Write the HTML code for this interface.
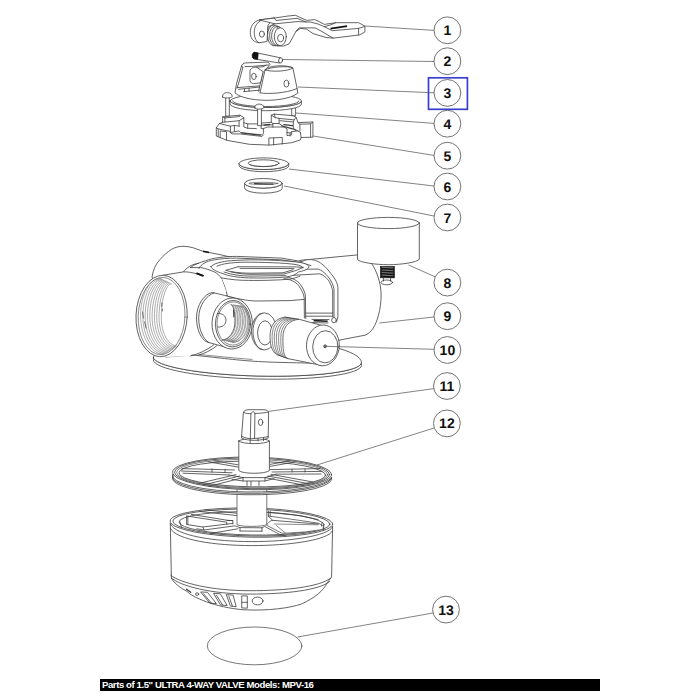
<!DOCTYPE html>
<html>
<head>
<meta charset="utf-8">
<title>Parts of 1.5" ULTRA 4-WAY VALVE Models: MPV-16</title>
<style>
html,body{margin:0;padding:0;background:#fff;}
body{width:700px;height:700px;overflow:hidden;position:relative;font-family:"Liberation Sans",sans-serif;}
svg{position:absolute;left:0;top:0;}
.l{fill:none;stroke:#3c3c3c;stroke-width:0.8;stroke-linecap:round;stroke-linejoin:round;}
.w{fill:#fff;stroke:#3c3c3c;stroke-width:0.8;stroke-linecap:round;stroke-linejoin:round;}
.t{fill:none;stroke:#5a5a5a;stroke-width:0.5;}
.ld{fill:none;stroke:#5a5a5a;stroke-width:0.75;}
.c{fill:#fff;stroke:#5a5a5a;stroke-width:0.85;}
.n{font-family:"Liberation Sans",sans-serif;font-weight:bold;font-size:14px;fill:#111;text-anchor:middle;text-rendering:geometricPrecision;}
#bar{position:absolute;left:100px;top:678.5px;width:500px;height:12px;background:#000;}
#bar span{position:absolute;left:2px;top:0;line-height:12px;font-size:9.6px;font-weight:bold;color:#fff;white-space:nowrap;letter-spacing:-0.43px;}
</style>
</head>
<body>
<svg width="700" height="700" viewBox="0 0 700 700">
<!-- PARTS-START -->
<g id="p1">
<!-- far lug -->
<path class="w" d="M259.4 19.9 C253 21.5 250.3 27 250.3 32.4 C250.3 38 253 41.5 257 42.3 L259 42.7 L267 41.6 L268 25 L274.3 18.1 Z"/>
<path class="l" d="M262.3 19.9 C256.5 22 254.3 27 254.3 32.4 C254.3 38 256.5 41.8 258.9 42.7"/>
<ellipse class="l" cx="261.9" cy="34.1" rx="2.5" ry="3.1"/>
<!-- arm -->
<path class="w" d="M259.4 19.9 L274.3 18.1 L288 16 L295.7 15.3 L300 17.5 L307 20.4 L314.6 19.6 L319 21.5 L324.3 24.4 L335.7 22.7 L358.6 22.7 L364.9 26.1 L364.9 31.9 L359.7 34.9 L333.4 38.1 L326 37.5 L313.1 33.6 L306.3 29 L300.6 28.4 L296 31.3 L289.1 43.9 L283.4 46.1 L273 45.6 L268 40 L268 27 L274.3 23.9 Z"/>
<path class="l" d="M274.3 23.9 L297.1 21.6 L310.6 22.1 L318 24 L324.3 26.7 L332.3 30.7 L358.6 28.4 L364.5 26.5"/>
<path class="l" d="M274.3 18.1 L276 20.5 L297 18.3 L306 22"/>
<path class="l" d="M296 31.3 L299 27.9 L315 27.9 L322 31.5 L330 36.4 L333.4 38.1"/>
<path class="l" d="M358.6 28.4 L358.6 34.9"/>
<path class="l" d="M335.7 22.7 L331 24.8 L324.3 26.7"/>
<path d="M330.5 28.6 L347 26.2" stroke="#111" stroke-width="1.8" fill="none"/>
<!-- boss -->
<ellipse class="w" cx="273.6" cy="35.3" rx="6" ry="10.3"/>
<ellipse class="w" cx="275.6" cy="35.6" rx="6" ry="10"/>
<ellipse class="w" cx="277.6" cy="36" rx="6" ry="9.6"/>
<path class="w" d="M277.6 26.4 L280.3 27.8 L280.3 45.6 L277.6 45.6 Z" stroke="none"/>
<ellipse class="w" cx="280.3" cy="36.7" rx="6" ry="8.9"/>
<ellipse class="l" cx="280.6" cy="38.1" rx="3" ry="3.7"/>
</g>
<g id="p2">
<path class="w" d="M254.9 52.4 L280.8 57.9 L279.8 63 L254 58.9 Z"/>
<path d="M258.2 53.2 L254.8 52.3 C253 52.4 252.2 54 252.2 55.6 C252.2 57.4 252.9 58.6 254.2 58.8 L257.6 59.3 Z" fill="#111" stroke="#111" stroke-width="0.8"/>
<ellipse class="w" cx="280.6" cy="60.4" rx="1.9" ry="2.7" transform="rotate(10 280.6 60.4)"/>
</g>

<g id="p5">
<path class="w" d="M216.3 135.6 L216.3 127.8 L219.4 123.5 L222.6 122.3 L222.6 116.8 L239.9 115.2 L243.8 117.6 L243.8 122.6 L247.7 123.9 L257.1 123.9 L261.1 123.1 L271.3 122.3 L271.3 115.2 L274.4 114.1 L293.3 115.7 L296.1 117.3 L298.0 122.6 L312.9 122.0 L312.9 137.2 L301.1 137.5 L300.4 139.9 L291.7 142.7 L269.7 145.1 L249.3 144.3 L227.3 140.4 Z"/>
<path class="l" d="M222.6 122.3 L239.1 120.7 L243.8 117.9"/>
<path class="l" d="M224.9 117.9 L239.5 116.6 L239.9 115.2"/>
<path class="l" d="M224.9 117.9 L224.9 122.0"/>
<path class="l" d="M222.6 116.8 L224.9 117.9"/>
<path class="l" d="M239.1 120.7 L239.1 126.2"/>
<path class="l" d="M219.4 123.5 L230.4 126.2 L234.4 125.4 L239.1 126.2"/>
<path class="l" d="M230.4 126.2 L230.4 132.5 L239.1 130.9 L240.6 132.5 L261.9 134.9 L263.4 133.3 L263.4 128.6 L267.4 127.0 L283.9 127.0 L287.0 128.6 L287.0 135.6 L291.7 134.9 L291.7 131.7 L298.0 130.9 L300.4 132.5"/>
<path class="l" d="M234.4 125.4 L234.4 131.4"/>
<path class="l" d="M230.4 132.5 L232.0 133.9 L239.9 133.9 L261.9 136.4 L263.4 134.9"/>
<path class="l" d="M216.3 127.8 L218.2 128.9 L218.2 136.4"/>
<path class="l" d="M218.2 128.9 L230.1 131.4"/>
<path class="l" d="M220.2 137.5 L220.2 130.9 L226.5 131.7 L226.5 139.9"/>
<path class="l" d="M268.9 144.9 L268.9 138.0 L282.3 137.5 L282.3 144.0"/>
<path class="l" d="M273.6 137.8 L273.6 144.8"/>
<path class="l" d="M243.8 122.6 L243.8 127.0 L247.7 128.3 L256.4 128.6"/>
<path class="l" d="M247.7 123.9 L247.7 128.3"/>
<path class="l" d="M261.1 123.1 L261.1 128.6 L263.4 128.6"/>
<path class="l" d="M271.3 122.3 L272.9 123.5 L272.9 127.0"/>
<path class="l" d="M261.1 125.1 L272.5 124.8"/>
<path class="l" d="M274.4 114.1 L275.2 117.6 L279.1 118.4 L279.1 123.5 L272.9 123.5"/>
<path class="l" d="M275.2 117.6 L271.3 115.2"/>
<path class="l" d="M279.1 118.4 L294.1 119.9 L296.1 117.3"/>
<path class="l" d="M279.9 120.7 L293.3 122.0 L294.1 119.9"/>
<path class="l" d="M279.1 123.5 L283.9 127.0"/>
<path class="l" d="M293.3 122.0 L293.3 128.6 L298.0 130.9"/>
<path class="l" d="M283.9 124.6 L292.5 125.7" style="stroke-width:1.2"/>
<path class="l" d="M281.5 125.7 L291.7 128.6 L295.6 130.1" style="stroke-width:1.1"/>
<path class="l" d="M264.2 125.1 L269.7 124.5" style="stroke-width:1.4"/>
<path class="l" d="M241.4 133.0 L260.3 135.2" style="stroke-width:1.1"/>
<path class="l" d="M298.0 122.6 L299.9 124.2 L310.6 123.9 L312.9 122.0"/>
<path class="l" d="M299.9 124.2 L299.9 130.9"/>
<path class="l" d="M310.6 123.9 L310.6 136.9"/>
<path class="l" d="M287.0 132.5 L290.1 133.0 L291.7 131.7"/>
<path class="l" d="M290.1 133.0 L290.1 136.1"/>
<path class="l" d="M300.4 132.5 L301.1 137.5"/>
</g>
<g id="p4">
<!-- screws -->
<path class="w" d="M225.7 97 L225.7 116.2 L229.3 116 L229.3 97 Z"/>
<path class="w" d="M222.6 97 C222.6 93.5 224.5 92.7 227.3 92.7 C230.2 92.7 232.2 93.8 232.2 96.6 C232.2 98.2 222.6 98.6 222.6 97 Z"/>
<path class="w" d="M291.7 106 L291.7 115.6 L295.6 115.8 L295.6 105 Z"/>
<!-- flange -->
<path class="w" d="M230 101 A35.7 6.5 0 0 0 301.4 101 L301.4 104.2 A35.7 6.5 0 0 1 230 104.2 Z"/>
<path class="w" d="M230 101 A35.7 6.5 0 0 1 301.4 101 A35.7 6.5 0 0 1 230 101 Z"/>
<path class="l" d="M232.5 101 A33.2 5.5 0 0 0 299 101"/>
</g>
<g id="p3">
<!-- cap body -->
<path class="w" d="M241.4 66.4 C242 64 243.5 63.1 245.7 62.9 L267.9 62.1 L270 64.3 L268.6 66.2 L265 70 C270 67 288 65.5 292.9 67.9 L297.1 88.6 L297.9 93 C290 99.5 272 100.5 265 100.3 C252 100 240 97.5 235 92.9 L236.4 84.3 Z"/>
<path class="l" d="M267.9 67.9 C272 65.3 288 64.8 292.9 67.9 C289 71.3 272 72.2 265 70"/>
<path class="l" d="M265 70 L260 92.9 M262.9 71.4 L258.6 91.4"/>
<path class="l" d="M245 66.6 L252 66.4 L268.6 65"/>
<path class="w" d="M262.9 71.4 L256.4 67.1 C252 67.3 250 69 250 71.4 L250 80.7 C250.5 82.8 252 83.6 253.6 83.6 L260.2 82.9 Z"/>
<path class="l" d="M256.4 67.1 L263 66.8 L266 65.3"/>
<ellipse class="l" cx="253.9" cy="76.4" rx="2.3" ry="3.2"/>
<ellipse class="l" cx="286.4" cy="83.6" rx="2.5" ry="3.5"/>
<path class="l" d="M260.4 92.9 C268 94.2 285 93.5 297.1 88.6"/>
<path class="l" d="M237.2 87.6 L259.3 85.9 M238.6 89.3 L259.6 87 M243.6 91.6 L259.3 90.2"/>
<path class="l" d="M244.5 89 L244.5 91.4 M249 88.5 L249 91"/>
<path class="l" d="M241.4 66.4 L243 67 L238.3 84.5 L236.9 88.2"/>
</g>
<g id="p4b">
<!-- front screw -->
<path class="w" d="M257.6 108 L257.6 125.6 L261.4 125.8 L261.4 108 Z"/>
<path class="w" d="M254.8 108 C254.8 105 256.6 104.1 259.3 104.1 C262 104.1 263.8 105.2 263.8 107.8 C263.8 109.4 254.8 109.6 254.8 108 Z"/>
</g>
<g id="p6">
<path class="w" d="M239.1 163.7 A24.8 5.8 0 0 0 288.7 163.7 L288.7 165.9 A24.8 5.8 0 0 1 239.1 165.9 Z"/>
<ellipse class="w" cx="263.9" cy="163.7" rx="24.8" ry="5.8"/>
<ellipse class="l" cx="263.6" cy="163.2" rx="15.5" ry="3.4"/>
<path class="l" d="M250 164.8 A15.5 3.4 0 0 0 277 164.9" style="stroke-width:0.6"/>
</g>
<g id="p7">
<path class="w" d="M244.6 183.3 A18.8 4.8 0 0 0 282.2 183.3 L282.2 188.4 A18.8 4.8 0 0 1 244.6 188.4 Z"/>
<ellipse class="w" cx="263.4" cy="183.3" rx="18.8" ry="4.8"/>
<ellipse class="l" cx="263.5" cy="183.4" rx="14.6" ry="1.1" style="stroke-width:0.6"/>
<path class="l" d="M254.5 183.6 L273 184.2" style="stroke-width:1.2"/>
</g>

<g id="p9">
<!-- base disc -->
<path class="w" d="M153.4 357.4 A104 16 1.45 0 0 361.4 362.6 L361.4 365.4 A104 16.2 1.45 0 1 153.4 360.2 Z"/>
<path class="w" d="M153.4 357.4 A104 21.8 1.45 0 1 361.4 362.6 A104 16 1.45 0 1 153.4 357.4 Z"/>
<!-- back-left cylinder -->
<path class="w" d="M152.1 276.5 C153 270 155.7 264 160 259.5 C164 255 167.5 252 171.4 249.4 C175 247.3 179 246.3 182.9 246.3 C186.5 246.3 190 246.9 192.9 247.7 L202.9 251.3 L220 254.6 L231.4 257.3 L240 300 L160 300 Z"/>
<!-- right port -->
<path class="w" d="M300 260.4 L357.6 254.9 C364 255.5 371 262 371.7 263.6 C376 270 381.1 282 381.1 295 C381.1 310 377 322 373.3 328 C371 332 367 334.5 365.4 335.1 L338 340.4 L300 340 Z"/>
<!-- main body -->
<path d="M190.3 267.6 C195 264 200 262.5 205.7 260.7 C212 258 225 256.4 236.6 256.4 L281.4 258.1 L302 261.6 C307 258.5 313 259.5 315.7 260.7 C318 261 320.5 263 321.4 263.6 C326 266.5 330.9 273.8 332.9 276 C336 280 337.9 285 337.9 287.5 L337.9 317 L336.5 322 L320 364 L190 356 L186 300 Z" fill="#fff" stroke="none"/>
<path class="l" d="M190.3 267.6 C195 264 200 262.5 205.7 260.7 C212 258 225 256.4 236.6 256.4 L281.4 258.1 L302 261.6 C307 258.5 313 259.5 315.7 260.7 C318 261 320.5 263 321.4 263.6 C326 266.5 330.9 273.8 332.9 276 C336 280 337.9 285 337.9 287.5 L337.9 317 L336.5 322"/>
<path class="l" d="M166 357 L192 355 C202 356 212 357.2 220 358 C232 359.4 242 360.4 250 361 C262 361.8 272 362.2 280 362.4 C292 362.7 302 362.9 312 363.2"/>
<path class="l" d="M200 354.6 C215 356 235 358.2 252 359.4" style="stroke-width:0.6"/>
<path class="l" d="M198 355.2 C204 353.8 212 350 217 345.6 M190 356 C198 354.5 208 349.5 214 344.6"/>
<!-- frame lines -->
<path class="l" d="M290 269.3 L318.3 269.1 C324 271 329.3 277.7 331 281 C333 284 334 288.7 334 290 L334 318.6"/>
<path class="l" d="M288 275.6 L319.9 273.8 C324 275 328.5 279.3 330 283 C332 287 332.7 290.3 332.7 292 L332.7 317"/>
<path class="l" d="M286.3 277 C292 277.6 297.9 280.9 300 284 C303 288 305 292 305.4 296 L305.7 318.6"/>
<path class="l" d="M284 278.6 C290 279 296 282 298.5 285.5 C301.5 289.5 303.9 294 304.2 298 L304.4 318"/>
<path class="l" d="M305.7 313.1 L332.7 313.1 M305.7 316.2 L332.4 316.2"/>
<ellipse class="w" cx="334" cy="320.2" rx="2.3" ry="2.7"/>
<path d="M313.6 320.6 L327.7 321.2" stroke="#222" stroke-width="1.6" fill="none"/>
<path class="l" d="M312 319.4 L329 319.6 M312.5 322.6 L328 323"/>
<!-- band -->
<path class="l" d="M226.3 295.9 C240 299.5 250 301 257.1 301 L290 300.6 L304.2 299.4"/>
<!-- collar -->
<path class="l" d="M198.9 268.4 C200 266 202 264.5 204 263.3 C207 261.5 210 260.5 214.3 259.9 C220 258.8 228 258.1 236.6 258.1 L281 259.8 L300 262.6 L311 265.5"/>
<path class="l" d="M190.3 267.6 L200.6 267.6 C206 268.5 210 270 214.3 271.9 C218 273.8 220 276 221.1 277.9 C232 279.8 240 280.4 248.6 280.4 C262 280.6 278 280.2 289.7 279.2 C294 278.4 298 277 300 276"/>
<path class="l" d="M221.1 277.9 C223 282 225 287 226.3 291.6 L227.5 296.5"/>
<!-- collar opening -->
<path class="w" d="M210.9 266.7 C213 263.5 222 261.3 231.4 260.7 C240 260 250 259.8 257.1 259.9 C272 260 290 261 300 262.4 C306 263.4 309 265.5 309 267 C308 269.5 303 271 298.3 272 C296 274.5 292 276.2 286.3 277 C275 278 260 278.1 248.6 277.9 C238 277.5 228 276 222.9 273.6 C216 271.5 211.5 269 210.9 266.7 Z"/>
<path class="l" d="M217 266.2 C222 263.6 232 262.4 245 262.2 C262 262.2 285 262.8 296 264.6 C300 265.3 302.5 266.5 303 267.5"/>
<path class="l" d="M238.3 266.7 L296.6 266.9 L303 267.5 M238.3 266.7 L226 270.3 M226 270.3 C232 272.6 240 274 250 274.3 L284 274 L296 270.5 L303 267.5"/>
<path class="l" d="M240 268.4 L294 268.6 M231 271.6 C238 273 246 273.2 252 273.2 L283 272.8 L293 269.8"/>
<path class="l" d="M224 272 C232 275 242 276 250 276.1 L286 275.6"/>
<!-- top lines of back cylinder onto collar -->
<path class="l" d="M183.4 271.9 C186 268 192 264 198.6 263.3"/>
<path d="M203 251.2 L209 252.6 M196.5 273.2 L203.5 276" stroke="#111" stroke-width="1.5" fill="none"/>
<!-- big port tube -->
<path d="M162.6 275.3 L183.4 271.9 L186.6 271.9 C192 272.3 198 274 202 276 L221.1 277.9 L226.3 291.6 L214 296 L200 310 L197 330 L204 342 L190 356 L166 357 Z" fill="#fff" stroke="none"/>
<path class="l" d="M162.6 275.3 L183.4 271.9 L186.6 271.9 C192 272.3 198 274 202 276"/>
<path d="M196.5 273.2 L203.5 276" stroke="#111" stroke-width="1.5" fill="none"/>
<!-- big port face -->
<ellipse class="w" cx="161.6" cy="316" rx="25.6" ry="40.7" transform="rotate(2.5 161.6 316)"/>
<ellipse class="l" cx="161.6" cy="316" rx="23.4" ry="38.6" transform="rotate(2.5 161.6 316)" style="stroke-width:0.6"/>
<path class="t" d="M160.5 278.2 C149.5 278.2 140.6 294.9 140.6 315.5 C140.6 336.9 150.9 354.2 163.5 354.2"/>
<path class="t" d="M161.8 278.8 C151.3 278.8 142.9 295.4 142.9 315.8 C142.9 336.5 152.8 353.3 165.1 353.3"/>
<path class="t" d="M163.0 279.4 C153.2 279.4 145.2 295.8 145.2 316.0 C145.2 336.1 154.8 352.4 166.6 352.4"/>
<path class="t" d="M164.2 280.1 C155.0 280.1 147.5 296.3 147.5 316.2 C147.5 335.7 156.7 351.5 168.2 351.5"/>
<path class="t" d="M165.5 280.7 C156.8 280.7 149.8 296.7 149.8 316.5 C149.8 335.3 158.7 350.6 169.7 350.6"/>
<path class="t" d="M166.8 281.3 C158.7 281.3 152.1 297.2 152.1 316.8 C152.1 334.9 160.7 349.7 171.2 349.7"/>
<path class="t" d="M168.0 281.9 C160.5 281.9 154.4 297.6 154.4 317.0 C154.4 334.6 162.6 348.8 172.8 348.8"/>
<path class="t" d="M169.2 282.5 C162.3 282.5 156.7 298.1 156.7 317.2 C156.7 334.2 164.6 347.9 174.3 347.9"/>
<path class="t" d="M170.5 283.2 C164.1 283.2 159.0 298.5 159.0 317.5 C159.0 333.8 166.6 347.0 175.9 347.0"/>
<path class="t" d="M171.8 283.8 C166.0 283.8 161.3 299.0 161.3 317.8 C161.3 333.4 168.5 346.1 177.4 346.1"/>
<path class="l" d="M161.8 303 L161.8 306.5 M162.3 309 L162.3 311 M142.6 312 L143.4 318 M144.6 322 L146 328" style="stroke-width:0.7"/>
<!-- small port boss -->
<path class="w" d="M212 292.5 C204 294 196.5 305 196.5 318 C196.5 329 201 339.5 207 342 L225 347 L240 330 L234 298 L225 295.5 Z"/>
<path class="l" d="M214 293 C206.5 295 198.7 305.5 198.7 318 C198.7 329 202.8 339 208.8 342.5"/>
<ellipse class="w" cx="232.2" cy="323.5" rx="20.2" ry="25.5" transform="rotate(2 232.2 323.5)"/>
<ellipse class="l" cx="233" cy="323.7" rx="17.5" ry="23.2" transform="rotate(2 233 323.7)"/>
<ellipse class="l" cx="233.2" cy="323.5" rx="16.2" ry="21.6" transform="rotate(2 233.2 323.5)" style="stroke-width:0.6"/>
<path class="l" d="M231.0 304.5 C233.2 304.5 235.0 311.9 235.0 321.0 C235.0 331.5 229.2 340.0 222.0 340.0"/>
<path class="t" d="M231.5 304.5 C233.9 304.5 235.9 311.9 235.9 321.0 C235.9 331.5 229.9 340.0 222.5 340.0"/>
<path class="t" d="M232.8 304.8 C235.4 304.8 237.5 312.2 237.5 321.3 C237.5 331.9 231.5 340.5 224.0 340.5"/>
<path class="t" d="M233.3 304.8 C236.1 304.8 238.4 312.2 238.4 321.3 C238.4 331.9 232.2 340.5 224.5 340.5"/>
<path class="t" d="M234.6 305.1 C237.6 305.1 240.0 312.5 240.0 321.6 C240.0 332.3 233.7 341.0 226.0 341.0"/>
<path class="t" d="M235.1 305.1 C238.3 305.1 240.9 312.5 240.9 321.6 C240.9 332.3 234.5 341.0 226.5 341.0"/>
<path class="t" d="M236.4 305.4 C239.8 305.4 242.5 312.8 242.5 321.9 C242.5 332.7 236.0 341.5 228.0 341.5"/>
<path class="t" d="M236.9 305.4 C240.5 305.4 243.4 312.8 243.4 321.9 C243.4 332.7 236.7 341.5 228.5 341.5"/>
<path class="t" d="M238.2 305.7 C242.0 305.7 245.0 313.1 245.0 322.2 C245.0 333.1 238.3 342.0 230.0 342.0"/>
<path class="t" d="M238.7 305.7 C242.7 305.7 245.9 313.1 245.9 322.2 C245.9 333.1 239.0 342.0 230.5 342.0"/>
<path class="t" d="M240.0 306.0 C244.1 306.0 247.5 313.4 247.5 322.5 C247.5 333.5 240.6 342.5 232.0 342.5"/>
<path class="t" d="M240.5 306.0 C244.9 306.0 248.4 313.4 248.4 322.5 C248.4 333.5 241.3 342.5 232.5 342.5"/>
<path class="l" d="M217.6 313.6 C222.5 313 226 316 226 320.2 C226 324.4 222.5 327.6 217.8 327"/>
<path class="l" d="M233.6 310 L233.8 317" style="stroke-width:1"/>
</g>
<g id="p10">
<!-- washer -->
<ellipse class="w" cx="264.2" cy="331.4" rx="12.8" ry="18.6"/>
<path class="l" d="M262 313.3 C256.5 315 253 323 253 331.6 C253 340 256.5 348 262 349.6"/>
<ellipse class="l" cx="265" cy="332.9" rx="7.4" ry="12.1"/>
<!-- plug -->
<path d="M285 317.1 L299.3 319.3 L325 326.4 L325 365.6 L309.3 362.9 L287.9 358.6 L278 355 C270 350 268 330 275 322 Z" fill="#fff" stroke="none"/>
<path class="w" style="stroke-width:0.75" d="M285.0 317.1 C276.0 318.1 270.0 324.5 270.0 336.5 C270.0 346.5 273.0 354.0 278.0 355.0"/>
<path class="w" style="stroke-width:0.6" d="M287.3 317.5 C278.3 318.5 272.1 324.7 272.1 336.7 C272.1 346.7 274.6 354.6 279.6 355.6"/>
<path class="w" style="stroke-width:0.6" d="M289.6 317.8 C280.6 318.8 274.3 324.9 274.3 336.9 C274.3 346.9 276.3 355.2 281.3 356.2"/>
<path class="w" style="stroke-width:0.6" d="M291.9 318.2 C282.9 319.2 276.4 325.1 276.4 337.1 C276.4 347.1 277.9 355.8 282.9 356.8"/>
<path class="w" style="stroke-width:0.6" d="M294.2 318.5 C285.2 319.5 278.6 325.3 278.6 337.3 C278.6 347.3 279.6 356.4 284.6 357.4"/>
<path class="w" style="stroke-width:0.6" d="M296.5 318.9 C287.5 319.9 280.8 325.5 280.8 337.5 C280.8 347.5 281.2 357.0 286.2 358.0"/>
<path class="w" style="stroke-width:0.75" d="M298.8 319.3 C289.8 320.3 282.9 325.7 282.9 337.7 C282.9 347.7 282.9 357.6 287.9 358.6"/>
<path class="l" d="M285 317.1 L299.3 319.3 L325 326.4 M278 355 L287.9 358.6 L309.3 362.9 L321 365.2"/>
<ellipse class="w" cx="322.9" cy="345.4" rx="16.4" ry="20.4" transform="rotate(2 322.9 345.4)"/>
<ellipse class="l" cx="325.3" cy="346.8" rx="12.6" ry="16.1" transform="rotate(2 325.3 346.8)"/>
<circle cx="325.1" cy="346.3" r="1.4" fill="#888" stroke="#222" stroke-width="0.7"/>
</g>
<g id="p8">
<path class="w" d="M357.5 223.2 L357.5 259.6 C360 262.4 375 264.7 388.5 264.7 C402 264.7 417 262.2 419.3 259.3 L419.3 223.2 Z"/>
<ellipse class="w" cx="388.4" cy="223" rx="30.9" ry="5.6"/>
<rect x="380.4" y="266.4" width="14" height="11.4" fill="#333" stroke="#222" stroke-width="0.7"/>
<path d="M381 268.3 L394 269.3 M381 270.9 L394 271.9 M381 273.5 L394 274.5 M381 276.1 L394 277" stroke="#111" stroke-width="1.3" fill="none"/>
<path d="M382 267.4 L393 267.9 M382 270 L393 270.7 M382 272.5 L393 273.2 M382 275 L393 275.8" stroke="#bbb" stroke-width="0.5" fill="none"/>
<ellipse class="w" cx="386.8" cy="282.4" rx="5.8" ry="2.4"/>
<path class="l" d="M383.4 278 L383.4 281 M390.6 278 L390.6 281"/>
</g>

<g id="p12b">
<!-- rotor body -->
<path class="w" d="M170.3 524 L171.4 578 C173 582 180 588 187 591.4 C192 597 215 607.5 244 609.8 C268 611 290 608 301.4 604 C315 598 324 590 327 583 L331.6 577 L332.6 527 Z"/>
<!-- lower band lines -->
<path class="l" d="M170.7 575.3 C180.4 583.0 211.3 590.7 249.9 590.7 C285.9 590.7 319.3 586.9 330.1 578.4"/>
<path class="l" d="M171.2 577.9 C180.4 586.1 211.3 594.1 249.9 594.1 C285.9 594.1 319.3 590.2 329.8 581.5"/>
<!-- slots -->
<path class="l" d="M201.0 592.0 L207.4 592.3 L216.4 603.6 L210.3 603.1 Z"/>
<path class="l" d="M213.9 593.3 L220.3 593.8 L227.2 605.6 L220.8 604.9 Z"/>
<path class="l" d="M226.7 594.6 L233.1 595.1 L236.2 606.7 L230.8 606.1 Z"/>
<path class="l" d="M242.1 595.9 L247.3 595.9 L247.3 608.2 L242.1 607.9 Z"/>
<path class="l" d="M242.1 602.3 L247.3 602.3"/>
<path class="l" d="M203.6 593.8 L211.8 603.6"/>
<path class="l" d="M216.4 595.1 L222.6 605.1"/>
<path class="l" d="M228.8 596.1 L232.4 606.1"/>
<ellipse class="l" cx="257.6" cy="601.0" rx="5.4" ry="3.9"/>
<ellipse class="l" cx="197.1" cy="594.1" rx="1.6" ry="1.3"/>
<path class="l" d="M186.6 589.2 L190.7 592.3" style="stroke-width:1.3"/>
<!-- rim -->
<path class="l" d="M170.4 528.5 C176 540 215 545.5 251.4 545.6 C290 545.6 328 540 332.5 531"/>
<path class="l" d="M170.3 524 C176 536 215 541.5 251.4 541.6 C290 541.6 328 536 332.6 527"/>
<ellipse class="w" cx="251.4" cy="522.6" rx="81.3" ry="14.6" transform="rotate(1.1 251.4 522.6)"/>
<ellipse class="l" cx="251.4" cy="522.6" rx="78.6" ry="13.4" transform="rotate(1.1 251.4 522.6)"/>
<ellipse class="l" cx="251.6" cy="523.4" rx="72.6" ry="11.6" transform="rotate(1.1 251.6 523.4)"/>
<!-- inner spokes -->
<!-- left half -->
<path class="l" d="M191.4 514.4 L228 520.4 L232.8 520.6 M187.8 516.2 L226.8 522.2 L226.8 524.4"/>
<path class="l" d="M186.6 515.8 L186.6 524.4 M187.9 516.2 L187.9 524.6"/>
<path class="l" d="M187.2 524.6 L202.8 527 L232.8 523.4 M226.8 520.4 L232.8 520.6 L232.8 524"/>
<path class="l" d="M196.8 528.8 L204 530 L235.2 525.8 L240 527.6 L240 531"/>
<path class="l" d="M202.8 527 L204 530 M210 533.6 L238 528.8"/>
<path class="l" d="M200 511.5 L237 515.6 M205 509.8 L237 513.2"/>
<!-- hub -->
<path class="l" d="M240 527.6 L262 527.8 L262 531.2 M240 531 L262 531.2"/>
<path class="l" d="M262 527.8 L264.7 526.4 L279.5 534.4 L285.6 536"/>
<!-- right half -->
<path class="w" d="M268.4 516 L299.1 520.3 L318.8 523.3 L323.7 526.4 L322.5 529.5 L305.3 531.9 L285.6 533.2 L281.9 533.2 L266.6 525.2 C267.6 523 269.5 521.4 272.1 520.3 Z" style="stroke-width:0.7"/>
<path class="l" d="M272.1 520.3 L301.6 522.7 L318.8 524"/>
<path class="l" d="M274.6 524 L318 524.8 M276.5 525.6 L285.6 533.2" style="stroke-width:0.6"/>
<path class="l" d="M268.4 511.2 L268.4 516 M270.2 511.4 L270.2 516.2"/>
<path class="l" d="M323.7 526.4 L323.7 530.6"/>
<path class="l" d="M270 512.4 L300 515.6 L318 519.6"/>
<path class="l" d="M180 522 L181.5 527.5 M322 522.6 L321.5 526"/>
</g>
<g id="p12">
<!-- lower stem -->
<path class="w" d="M237 488 L237 524.6 C240 527 263 527 266.8 524.6 L266.8 488 Z" style="stroke-width:0.7"/>
<!-- disc -->
<path class="w" d="M172.7 474.5 A79.5 16.2 0 0 0 331.6 477 L331.6 479.8 A79.5 16.2 0 0 1 172.7 477.3 Z"/>
<path class="l" d="M172.7 475.9 A79.5 16.2 0 0 0 331.6 478.4"/>
<ellipse class="w" cx="252.1" cy="473.4" rx="79.5" ry="16.3" transform="rotate(0.9 252.1 473.4)"/>
<ellipse class="l" cx="252.1" cy="473.4" rx="77.6" ry="15.3" transform="rotate(0.9 252.1 473.4)"/>
<ellipse class="l" cx="252.2" cy="473.6" rx="75.6" ry="14.2" transform="rotate(0.9 252.2 473.6)" style="stroke-width:0.6"/>
<ellipse class="l" cx="252.3" cy="474" rx="73.4" ry="12.8" transform="rotate(0.9 252.3 474)"/>
<!-- spokes -->
<path class="l" d="M182 468.6 L234.4 470 M181.5 471 L232 472.8 M183 473.2 L229 475"/>
<path class="l" d="M270 469.6 L320 468.6 M272 472 L322 471.4 M276 474.2 L321 474"/>
<path class="l" d="M239.6 476 L203.6 485 M243 477.6 L209 486.4 M236 474.6 L199 483.4"/>
<path class="l" d="M267.9 476 L309 483.7 M265 477.6 L303 485 M271 474.4 L313 482"/>
<path class="l" d="M208.7 461.9 L238 467 M214 460.8 L238 464.8"/>
<path class="l" d="M295 461.9 L270 466.4 M290 460.8 L270 464.4"/>
<path class="l" d="M229 475 L243 477.6 L265 477.6 L276 474.2 M232 479.4 L243 481 L265 481 L274 478.6 M243 477.6 L243 481 M265 477.6 L265 481"/>
<path class="l" d="M212 468.8 L212 472 M225 469.4 L225 472.5 M292 469.2 L292 472 M305 469 L305 472"/>
<path class="l" d="M247 481.4 L247 485.5 M251 481.4 L251 485.5 M259 481.4 L259 485.5"/>
</g>
<g id="p11">
<!-- collar cylinder -->
<path class="w" d="M238.8 441 L238.8 470.5 C242 474.2 266 474.2 269.4 470.5 L269.4 441 C266 437.6 242 437.6 238.8 441 Z"/>
<path class="l" d="M238.8 441 C242 444.6 266 444.6 269.4 441"/>
<!-- square head -->
<path class="w" d="M243.4 412.6 C243.6 410.6 246 409.8 249 409.7 L264 409.7 C267 409.9 268.6 411 268.6 413 L268.2 438 C262 440.8 248 441.4 241.8 438.2 Z"/>
<path class="l" d="M250.9 413.6 L250.2 442.6 M254.9 413.6 L254.6 438.4 M251 413.4 L253 411.4 L254.9 413.4"/>
<path class="l" d="M243.6 412.4 C246 413.6 249 413.8 251 413.6 M254.9 413.4 C260 413.4 266 412.8 268.6 412"/>
<path class="l" d="M242 436.4 C246 438.6 250 439 254.6 438.4 C260 438 265 437.6 268.2 436.4"/>
<path class="l" d="M258 438.4 L258 441 M263.5 437.8 L263.5 440.6"/>
<ellipse class="l" cx="260.6" cy="422.3" rx="2.2" ry="3.2"/>
</g>
<g id="p13">
<ellipse class="w" cx="254.6" cy="645.9" rx="47.3" ry="18.9" style="stroke-width:0.7"/>
</g>

<!-- PARTS-END -->
<!-- LEADERS -->
<g class="ld" id="leaders">
<line x1="365" y1="26" x2="434" y2="30.4"/>
<line x1="283" y1="59.5" x2="434" y2="61.5"/>
<line x1="298" y1="87" x2="434" y2="92.8"/>
<line x1="296" y1="113" x2="434" y2="123.4"/>
<line x1="313" y1="136" x2="434" y2="155.4"/>
<line x1="289" y1="169" x2="434" y2="186"/>
<line x1="284" y1="186" x2="434" y2="216"/>
<line x1="408.6" y1="265" x2="435.5" y2="277"/>
<line x1="379.4" y1="323" x2="434" y2="317"/>
<line x1="325" y1="346.3" x2="434" y2="349.3"/>
<line x1="268.6" y1="411.4" x2="434" y2="388.6"/>
<line x1="317" y1="465" x2="434" y2="428"/>
<line x1="297.5" y1="637" x2="433" y2="613"/>
</g>
<!-- LABELS -->
<g id="labels">
<rect x="428.5" y="77.8" width="38.9" height="31.5" fill="none" stroke="#3a3fce" stroke-width="1.7"/>
<circle class="c" cx="447.4" cy="30.3" r="13.4"/><text class="n" x="447.4" y="35.3">1</text>
<circle class="c" cx="447.4" cy="61.2" r="13.4"/><text class="n" x="447.4" y="66.2">2</text>
<circle class="c" cx="447.4" cy="92.9" r="13.4"/><text class="n" x="447.4" y="97.9">3</text>
<circle class="c" cx="447.4" cy="123.7" r="13.4"/><text class="n" x="447.4" y="128.7">4</text>
<circle class="c" cx="447.4" cy="155.7" r="13.4"/><text class="n" x="447.4" y="160.7">5</text>
<circle class="c" cx="447.4" cy="186.5" r="13.4"/><text class="n" x="447.4" y="191.5">6</text>
<circle class="c" cx="447.4" cy="217.5" r="13.4"/><text class="n" x="447.4" y="222.5">7</text>
<circle class="c" cx="447.4" cy="282.6" r="13.4"/><text class="n" x="447.4" y="287.6">8</text>
<circle class="c" cx="447.4" cy="316.2" r="13.4"/><text class="n" x="447.4" y="321.2">9</text>
<circle class="c" cx="447.4" cy="350" r="13.4"/><text class="n" x="447.4" y="355.0">10</text>
<circle class="c" cx="446.9" cy="386" r="13.4"/><text class="n" x="446.9" y="391.0">11</text>
<circle class="c" cx="446.9" cy="423.4" r="13.4"/><text class="n" x="446.9" y="428.4">12</text>
<circle class="c" cx="446" cy="609.6" r="13.4"/><text class="n" x="446" y="614.6">13</text>
</g>
</svg>
<div id="bar"><span>Parts of 1.5" ULTRA 4-WAY VALVE Models: MPV-16</span></div>
</body>
</html>
